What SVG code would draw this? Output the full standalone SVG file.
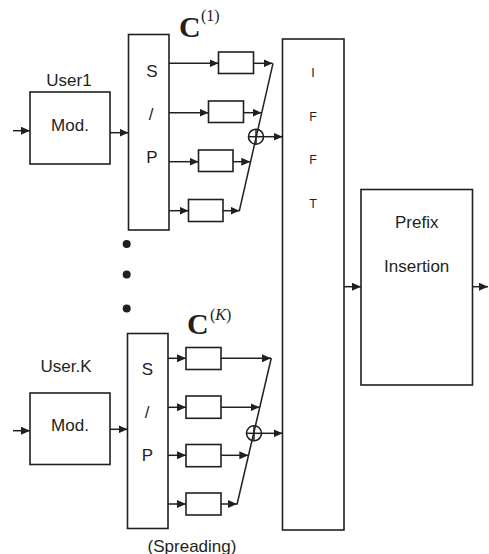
<svg xmlns="http://www.w3.org/2000/svg" width="489" height="554" viewBox="0 0 489 554">
<defs>
<marker id="ah" markerUnits="userSpaceOnUse" markerWidth="10" markerHeight="8" refX="9" refY="4" orient="auto">
<path d="M0,0 L9,4 L0,8 Z" fill="#231f20"/>
</marker>
<style>
.box{fill:#fff;stroke:#231f20;stroke-width:1.6}
.ln{fill:none;stroke:#231f20;stroke-width:1.5}
.ar{fill:none;stroke:#231f20;stroke-width:1.5;marker-end:url(#ah)}
.t{font-family:"Liberation Sans",Arial,sans-serif;font-size:17px;fill:#231f20;text-anchor:middle}
.s{font-family:"Liberation Sans",Arial,sans-serif;font-size:12.5px;fill:#231f20;text-anchor:middle}
.c{font-family:"Liberation Serif","Times New Roman",serif;font-weight:bold;font-size:30px;fill:#231f20}
.sup{font-family:"Liberation Serif","Times New Roman",serif;font-size:16px;fill:#231f20}
</style>
</defs>
<rect width="489" height="554" fill="#fff"/>

<g id="user1-mod">
<rect class="box" x="30" y="92" width="80" height="72"/>
<text class="t" x="69" y="86">User1</text>
<text class="t" x="70" y="130.5">Mod.</text>
</g>
<g id="user1-sp">
<rect class="box" x="128.5" y="34.5" width="40.5" height="195.5"/>
<text class="t" x="152" y="76.5">S</text>
<text class="t" x="151" y="120">/</text>
<text class="t" x="152" y="163">P</text>
</g>
<g id="user1-code">
<text class="c" x="179" y="36.5">C</text>
<text class="sup" x="201" y="21">(1)</text>
</g>
<g id="user1-spread">
<rect class="box" x="218.5" y="52" width="35" height="21.5"/>
<rect class="box" x="208.5" y="101" width="35" height="21.5"/>
<rect class="box" x="198.5" y="150" width="34.5" height="21.5"/>
<rect class="box" x="188.5" y="199.5" width="34.5" height="22"/>
</g>
<g id="user1-sum">
<circle class="box" cx="256" cy="136.7" r="7.5"/>
<line class="ln" x1="248.5" y1="136.7" x2="263.5" y2="136.7"/>
<line class="ln" x1="256" y1="129.2" x2="256" y2="144.2"/>
</g>

<g id="dots">
<circle cx="126.7" cy="244" r="4" fill="#231f20"/>
<circle cx="126.7" cy="274.5" r="4" fill="#231f20"/>
<circle cx="126.7" cy="308.5" r="4" fill="#231f20"/>
</g>

<g id="userk-mod">
<rect class="box" x="30" y="393" width="80" height="71.5"/>
<text class="t" x="66" y="371.7">User.K</text>
<text class="t" x="70" y="430.7">Mod.</text>
</g>
<g id="userk-sp">
<rect class="box" x="127.5" y="333.5" width="40.5" height="195"/>
<text class="t" x="147.5" y="375">S</text>
<text class="t" x="147" y="418">/</text>
<text class="t" x="147.5" y="460.7">P</text>
<text class="t" x="192" y="551.5">(Spreading)</text>
</g>
<g id="userk-code">
<text class="c" x="187" y="334">C</text>
<text class="sup" x="210" y="320">(<tspan font-style="italic">K</tspan>)</text>
</g>
<g id="userk-spread">
<rect class="box" x="186" y="347.5" width="35" height="22"/>
<rect class="box" x="186" y="396" width="35" height="22.3"/>
<rect class="box" x="186" y="444.5" width="35" height="22.2"/>
<rect class="box" x="186" y="493" width="35" height="22"/>
</g>
<g id="userk-sum">
<circle class="box" cx="254" cy="433.3" r="7.5"/>
<line class="ln" x1="246.5" y1="433.3" x2="261.5" y2="433.3"/>
<line class="ln" x1="254" y1="425.8" x2="254" y2="440.8"/>
</g>

<g id="ifft">
<rect class="box" x="282.5" y="39" width="61.5" height="491"/>
<text class="s" x="313" y="77.3">I</text>
<text class="s" x="313" y="120.7">F</text>
<text class="s" x="313" y="164">F</text>
<text class="s" x="313" y="208.3">T</text>
</g>
<g id="prefix">
<rect class="box" x="361" y="189.5" width="111.5" height="195.5"/>
<text class="t" x="416.7" y="228">Prefix</text>
<text class="t" x="416.7" y="271.7">Insertion</text>
</g>

<g id="connectors">
<line class="ar" x1="13" y1="130.7" x2="30" y2="130.7"/>
<line class="ar" x1="110" y1="132.7" x2="128.5" y2="132.7"/>
<line class="ar" x1="169" y1="63.3" x2="218.5" y2="63.3"/>
<line class="ar" x1="169" y1="112.7" x2="208.5" y2="112.7"/>
<line class="ar" x1="169" y1="161.7" x2="198.5" y2="161.7"/>
<line class="ar" x1="169" y1="210.7" x2="188.5" y2="210.7"/>
<line class="ar" x1="253.5" y1="63.3" x2="272.5" y2="63.3"/>
<line class="ar" x1="243.5" y1="112.7" x2="261.5" y2="112.7"/>
<line class="ar" x1="233" y1="161.7" x2="250.3" y2="161.7"/>
<line class="ar" x1="223" y1="210.7" x2="239.5" y2="210.7"/>
<line class="ln" x1="273" y1="63.3" x2="239.3" y2="211"/>
<line class="ar" x1="263.5" y1="136.7" x2="282.5" y2="136.7"/>

<line class="ar" x1="13" y1="430.7" x2="30" y2="430.7"/>
<line class="ar" x1="110" y1="429.3" x2="127.5" y2="429.3"/>
<line class="ar" x1="168" y1="358.3" x2="186" y2="358.3"/>
<line class="ar" x1="168" y1="407.3" x2="186" y2="407.3"/>
<line class="ar" x1="168" y1="455.3" x2="186" y2="455.3"/>
<line class="ar" x1="168" y1="504" x2="186" y2="504"/>
<line class="ar" x1="221" y1="358.3" x2="271" y2="358.3"/>
<line class="ar" x1="221" y1="407.3" x2="259.5" y2="407.3"/>
<line class="ar" x1="221" y1="455.3" x2="248.3" y2="455.3"/>
<line class="ar" x1="221" y1="504" x2="237" y2="504"/>
<line class="ln" x1="271.3" y1="358" x2="237" y2="504.5"/>
<line class="ar" x1="261.5" y1="433.3" x2="282.5" y2="433.3"/>

<line class="ar" x1="344" y1="286.7" x2="361" y2="286.7"/>
<line class="ar" x1="472.5" y1="286.7" x2="488" y2="286.7"/>
</g>
</svg>
